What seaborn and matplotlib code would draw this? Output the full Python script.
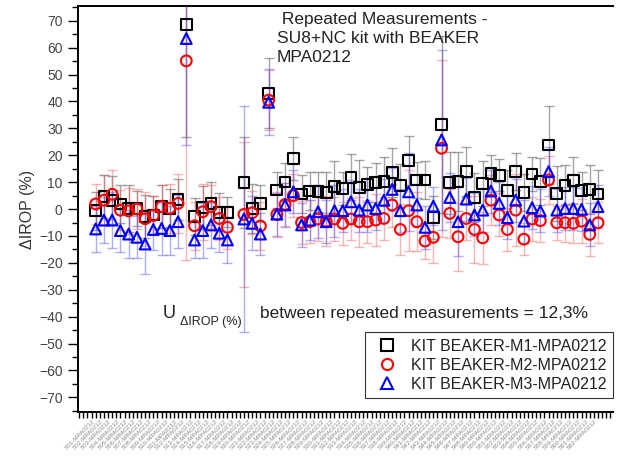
import numpy as np
import pandas as pd
import matplotlib
matplotlib.use("Agg")
import matplotlib.pyplot as plt
from matplotlib.lines import Line2D
from matplotlib.ticker import MultipleLocator
import seaborn as sns

nan = np.nan

# values, one entry per sample position (index 17 is empty)
m1 = [-0.6, 4.8, 3.3, 1.9, 0.2, 0.2, -2.9, -2.2, 1.0, 0.3, 3.6, 68.7, -2.9, 0.5, 2.1, -1.2, -1.2, nan,
      9.8, 0.2, 2.1, 43.0, 7.1, 10.1, 18.8, 5.6, 6.7, 6.4, 6.2, 8.3, 7.7, 11.8, 7.9, 9.2, 9.8, 10.2,
      13.6, 8.9, 18.0, 10.8, 10.8, -3.2, 31.5, 9.8, 10.2, 13.9, 4.3, 9.5, 13.3, 12.6, 6.8, 13.9, 6.2,
      13.0, 10.2, 23.8, 5.8, 8.9, 10.5, 6.8, 7.3, 5.6]
m2 = [1.9, 3.3, 5.5, -0.4, -0.7, 0.0, -3.6, -2.4, 0.9, 0.3, 2.1, 55.1, -6.2, -1.0, 0.9, -3.5, -6.8, nan,
      -2.0, -1.4, -6.3, 40.5, -2.0, 1.7, 5.0, -5.0, -4.7, -3.7, -4.5, -3.7, -5.3, -3.7, -4.7, -4.7, -4.1,
      -3.5, 1.5, -7.6, -0.6, -4.7, -11.9, -10.5, 22.6, -1.6, -10.3, -3.5, -7.6, -10.7, 3.3, -2.2, -7.6,
      -0.4, -11.2, -3.7, -4.3, 10.8, -5.1, -5.1, -5.3, -4.5, -9.4, -5.1]
m3 = [-7.4, -4.1, -4.1, -8.0, -9.3, -10.5, -13.0, -7.6, -7.2, -8.0, -4.7, 63.4, -11.5, -8.0, -5.9, -9.0,
      -11.5, nan, -3.7, -5.3, -9.3, 39.7, -1.9, 1.5, 6.4, -5.9, -4.1, -1.0, -4.7, -0.6, -0.6, 2.7, -0.4,
      1.5, 0.2, 3.3, 7.3, -0.6, 6.4, 1.5, -6.8, 1.1, 25.7, 4.3, -4.7, 3.7, -2.2, -0.4, 6.7, 2.1, -3.2,
      3.3, -4.5, 0.5, -0.7, 13.9, -0.4, 0.2, 0.2, -0.1, -5.9, 0.9]

m1_err = [7, 8, 9, 7, 8.7, 6.6, 8, 7, 8, 7, 7.6, 42, 6.9, 8, 8.1, 7, 5.5, nan, 17, 9, 7, 13, 6.8, 7.1,
          8.1, 7, 7.2, 7.5, 7.7, 9.7, 6.2, 8.6, 10.3, 6.5, 7.2, 9.2, 9, 8, 9, 6.8, 7.2, 8, 33, 11.5, 11.1,
          9, 9, 8.5, 6.8, 5.9, 7.7, 6.8, 7, 6.2, 8.6, 14.5, 10.2, 7.5, 8.7, 7.1, 9.1, 8.9]
m2_err = [7.6, 9.3, 9.2, 7.4, 8.4, 7.5, 10, 7.2, 8, 9.2, 11, 74, 9, 10.5, 8, 8, 8, nan, 27, 8, 9, 11.2,
          8.3, 8, 8, 8, 8, 8, 9.3, 8, 8.1, 7.8, 9.3, 8, 9.7, 8, 8, 9.3, 15, 10.9, 6.8, 9.7, 33, 9, 12.6,
          8, 12.6, 9.7, 9.2, 8, 8, 13.4, 5.9, 8, 7.9, 9, 6.4, 7, 7.5, 8.3, 8.1, 7.7]
m3_err = [8.5, 8.7, 10.5, 8, 9, 7.8, 11.2, 7.6, 9.8, 9, 9.9, 39.4, 6.8, 10.3, 8.5, 7, 8.7, nan, 42, 10,
          7.7, 12.2, 8, 8.3, 8, 8.1, 7.4, 9.9, 8, 9.7, 8, 8, 8, 9.9, 8, 8, 8, 8, 14.5, 8, 8, 7.2, 33.5, 9,
          12.8, 8, 8, 8, 8, 8, 8, 8, 8, 8, 8, 9, 8, 8, 8, 8, 8, 8]

series_names = ["KIT BEAKER-M1-MPA0212", "KIT BEAKER-M2-MPA0212", "KIT BEAKER-M3-MPA0212"]
sample_labels = [f"S{i + 1:02d}-MPA0212" for i in range(len(m1))]

sns.set_theme(style="ticks")
plt.rcParams["font.family"] = ["Liberation Sans", "DejaVu Sans"]

fig = plt.figure(figsize=(6.19, 4.61), dpi=100)
ax = fig.add_axes([0.126, 0.106, 0.864, 0.881])

pos = np.arange(len(m1))
series = [
    (m1, m1_err, "s", "black", (0.35, 0.35, 0.35, 0.55)),
    (m2, m2_err, "o", "red", (1.0, 0.35, 0.35, 0.45)),
    (m3, m3_err, "^", "blue", (0.3, 0.3, 1.0, 0.45)),
]

for i, (vals, errs, mk, col, ecol) in enumerate(series):
    df = pd.DataFrame({"pos": pos, "val": vals, "err": errs}).dropna()
    ax.errorbar(df["pos"], df["val"], yerr=df["err"], fmt="none", ecolor=ecol,
                elinewidth=1.0, capsize=3.5, capthick=1.0, zorder=1 + i)
    sns.scatterplot(data=df, x="pos", y="val", marker=mk, s=60, ax=ax, zorder=5 + i,
                    color=col, legend=False)
    coll = ax.collections[-1]
    coll.set_facecolor("none")
    coll.set_edgecolor(col)
    coll.set_linewidth(1.5)

ax.set_xlim(-2.15, 62.8)
ax.set_ylim(-75.5, 75.5)
ax.set_xticks(pos)
ax.set_xticklabels(sample_labels, rotation=45, ha="right", fontsize=4.5, color="#888888")
ax.xaxis.set_minor_locator(MultipleLocator(0.5))
ax.yaxis.set_major_locator(MultipleLocator(10))
ax.yaxis.set_minor_locator(MultipleLocator(5))
ax.tick_params(axis="y", which="major", direction="out", length=7, width=1, labelsize=10,
               labelcolor="#444444", color="black", pad=4)
ax.tick_params(axis="y", which="minor", direction="out", length=4, width=1, color="black")
ax.tick_params(axis="x", which="major", direction="out", length=4, width=1, color="black", pad=1)
ax.tick_params(axis="x", which="minor", direction="out", length=4, width=1, color="black")
ax.set_xlabel("")
ax.set_ylabel("ΔIROP (%)", fontsize=11.5, color="#333333", labelpad=3)
for s in ["left", "bottom", "top"]:
    ax.spines[s].set_color("black")
    ax.spines[s].set_linewidth(1.4)
ax.spines["right"].set_visible(False)

ax.text(0.372, 0.985, " Repeated Measurements -\nSU8+NC kit with BEAKER\nMPA0212",
        transform=ax.transAxes, ha="left", va="top", fontsize=12.5, color="#222222",
        linespacing=1.35)

ax.text(0.159, 0.244, "U", transform=ax.transAxes, ha="left", va="center",
        fontsize=13, color="#222222")
ax.text(0.190, 0.222, "ΔIROP (%)", transform=ax.transAxes, ha="left", va="center",
        fontsize=9, color="#222222")
ax.text(0.340, 0.244, "between repeated measurements = 12,3%", transform=ax.transAxes,
        ha="left", va="center", fontsize=12.5, color="#222222")

handles = [Line2D([], [], linestyle="none", marker=mk, markersize=8, markerfacecolor="none",
                  markeredgecolor=col, markeredgewidth=1.5)
           for (_, _, mk, col, _) in series]
leg = ax.legend(handles, series_names, loc="lower right", bbox_to_anchor=(1.0, 0.035),
                borderaxespad=0, fontsize=11.5, frameon=True, fancybox=False,
                handletextpad=0.5, labelspacing=0.25, borderpad=0.4)
leg.get_frame().set_edgecolor("black")
leg.get_frame().set_linewidth(0.8)
for t in leg.get_texts():
    t.set_color("#222222")

fig.savefig("out.png", dpi=100)
